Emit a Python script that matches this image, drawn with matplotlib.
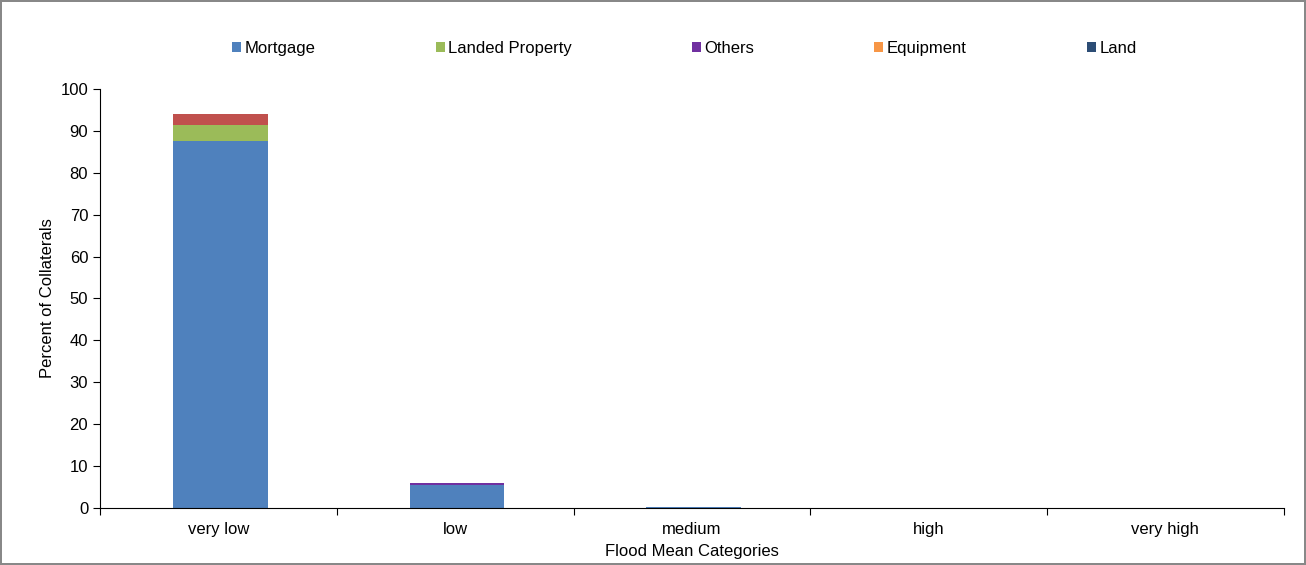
import numpy as np
from matplotlib import pyplot as plt

plt.rcParams['font.family'] = ['Liberation Sans', 'DejaVu Sans']

categories = ['very low', 'low', 'medium', 'high', 'very high']
mortgage = [87.6, 5.6, 0.2, 0.0, 0.0]
landed = [3.8, 0.0, 0.0, 0.0, 0.0]
unnamed = [2.6, 0.0, 0.0, 0.0, 0.0]
others = [0.0, 0.3, 0.0, 0.0, 0.0]
equipment = [0.0, 0.0, 0.0, 0.0, 0.0]
land = [0.0, 0.0, 0.0, 0.0, 0.0]

series = [
    ('Mortgage', mortgage, '#4F81BD'),
    ('Landed Property', landed, '#9BBB59'),
    ('_nolegend_', unnamed, '#C0504D'),
    ('Others', others, '#7030A0'),
    ('Equipment', equipment, '#F79646'),
    ('Land', land, '#2C4D75'),
]

fig = plt.figure(figsize=(13.06, 5.65), dpi=100)
fig.patch.set_edgecolor('#888888')
fig.patch.set_linewidth(1.5)
ax = fig.add_axes([0.0766, 0.1009, 0.9064, 0.7416])

x = np.arange(len(categories))
bottom = np.zeros(len(categories))
for name, vals, col in series:
    vals = np.array(vals)
    ax.bar(x + 0.008, vals, width=0.4, bottom=bottom, color=col, label=name)
    bottom += vals

ax.set_xlim(-0.5, len(categories) - 0.5)
ax.set_ylim(0, 100)
ax.set_yticks(np.arange(0, 101, 10))
ax.set_xticks(np.arange(-0.5, len(categories), 1))
ax.set_xticklabels([])
ax.set_xticks(x, minor=True)
ax.set_xticklabels(categories, minor=True)
ax.tick_params(axis='x', which='minor', length=0, labelsize=12, pad=10)
ax.tick_params(axis='x', which='major', length=5, direction='out')
ax.tick_params(axis='y', labelsize=12, length=5, direction='out')
for s in ['top', 'right']:
    ax.spines[s].set_visible(False)

ax.set_xlabel('Flood Mean Categories', fontsize=12, labelpad=5)
ax.set_ylabel('Percent of Collaterals', fontsize=12, labelpad=4)

handles, labels = ax.get_legend_handles_labels()
fig.legend(handles, labels, loc='center', bbox_to_anchor=(0.524, 0.915), ncol=5,
           frameon=False, fontsize=12, handlelength=0.55, handleheight=0.55,
           handletextpad=0.2, columnspacing=7.2)

plt.savefig('out.png')
